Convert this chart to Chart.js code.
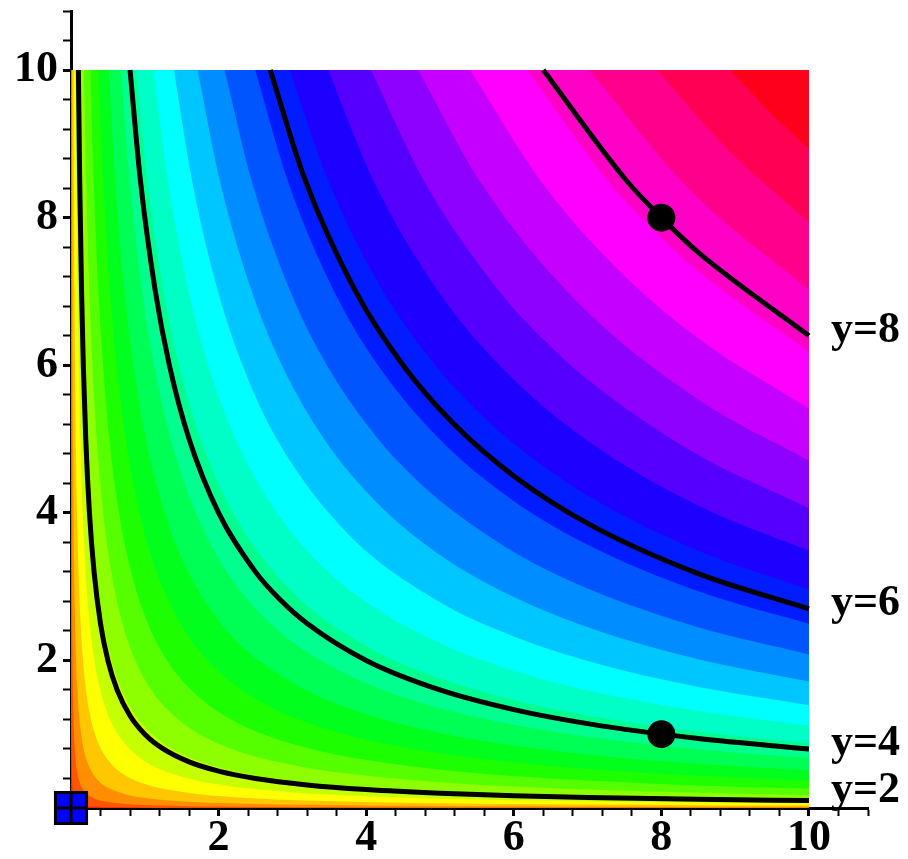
<!DOCTYPE html>
<html>
<head>
<meta charset="utf-8">
<script src="https://cdn.jsdelivr.net/npm/chart.js@4.4.1/dist/chart.umd.min.js"></script>
<style>
  html, body { margin: 0; padding: 0; background: #ffffff; }
  #wrap { position: relative; width: 908px; height: 859px; }
</style>
</head>
<body>
<div id="wrap"><canvas id="chart"></canvas></div>
<script>
// ---------- data ----------
// Sample lines: each edge curve is recorded where it crosses the line y = s (upper branch)
// and, symmetrically, where it crosses x = s (lower branch).
const gridS = [10, 8.5, 7, 6, 5, 4, 3.2, 2.5, 2, 1.6, 1.25, 1, 0.8, 0.6, 0.45, 0.33, 0.24, 0.17, 0.12, 0.085];

// level (height) of each colour-band edge, and value at the top-right corner
const bandLevels = [0.34, 0.69, 1.03, 1.38, 1.72, 2.06, 2.41, 2.75, 3.09, 3.44, 3.78, 4.13, 4.47,
                    4.81, 5.16, 5.50, 5.84, 6.19, 6.53, 6.88, 7.22, 7.56, 7.91, 8.25, 8.60, 8.94];
const cornerLevel = 9.28;

// crossings of each band edge with the sample lines gridS[k]
const bandEdgeCrossings = [
  [0.000508, 0.000598, 0.000726, 0.000847, 0.00102, 0.00127, 0.00159, 0.00203, 0.00254, 0.00318, 0.00406, 0.00508, 0.00635, 0.00847, 0.0113, 0.0154, 0.0212, 0.0299, 0.0423, 0.0598],
  [0.00406, 0.00478, 0.00581, 0.00677, 0.00813, 0.0102, 0.0127, 0.0163, 0.0203, 0.0254, 0.0325, 0.0406, 0.0508, 0.0677, 0.0903, 0.123, 0.169],
  [0.0137, 0.0161, 0.0196, 0.0229, 0.0274, 0.0343, 0.0429, 0.0549, 0.0686, 0.0857, 0.110, 0.137, 0.171, 0.229, 0.305],
  [0.0325, 0.0383, 0.0465, 0.0542, 0.0650, 0.0813, 0.102, 0.130, 0.163, 0.203, 0.260, 0.325, 0.406],
  [0.0635, 0.0747, 0.0907, 0.106, 0.127, 0.159, 0.198, 0.254, 0.318, 0.397, 0.508, 0.635],
  [0.110, 0.129, 0.157, 0.183, 0.219, 0.274, 0.343, 0.439, 0.549, 0.686, 0.878],
  [0.174, 0.205, 0.249, 0.290, 0.349, 0.436, 0.545, 0.697, 0.871, 1.089],
  [0.260, 0.306, 0.372, 0.434, 0.520, 0.650, 0.813, 1.041, 1.301],
  [0.370, 0.436, 0.529, 0.617, 0.741, 0.926, 1.157, 1.482],
  [0.508, 0.598, 0.726, 0.847, 1.016, 1.270, 1.588, 2.032],
  [0.676, 0.796, 0.966, 1.127, 1.352, 1.691, 2.113],
  [0.878, 1.033, 1.254, 1.463, 1.756, 2.195],
  [1.116, 1.313, 1.595, 1.860, 2.232, 2.791],
  [1.394, 1.640, 1.992, 2.324, 2.788],
  [1.715, 2.017, 2.450, 2.858, 3.429],
  [2.081, 2.448, 2.973, 3.468, 4.162],
  [2.496, 2.937, 3.566, 4.160],
  [2.963, 3.486, 4.233, 4.938],
  [3.485, 4.100, 4.978],
  [4.065, 4.782, 5.806],
  [4.705, 5.535],
  [5.410, 6.364],
  [6.182, 7.272],
  [7.023],
  [7.938],
  [8.930]
];
// where each band edge crosses the diagonal x = y
const bandEdgeDiagonal = [0.0713, 0.202, 0.370, 0.570, 0.797, 1.048, 1.320, 1.613, 1.925, 2.254, 2.600, 2.963, 3.341,
                          3.734, 4.141, 4.562, 4.996, 5.443, 5.903, 6.375, 6.859, 7.355, 7.862, 8.381, 8.910, 9.450];

// labelled black level curves
const contourLevels = [2, 4, 6, 8];
const contourCrossings = [
  [0.1, 0.118, 0.143, 0.167, 0.2, 0.25, 0.3125, 0.4, 0.5, 0.625, 0.8],
  [0.8, 0.941, 1.143, 1.333, 1.6, 2.0, 2.5],
  [2.7, 3.176, 3.857, 4.5],
  [6.4, 7.529]
];
const contourDiagonal = [1, 2.828, 5.196, 8];

// marked points and the origin marker
const markedX = [8, 8];
const markedY = [8, 1];
const originX = [0];
const originY = [0];

// axis tick labels
const tickLabels = [2, 4, 6, 8, 10];

// ---------- build the library's datasets ----------
function edgePoints(cross, diag) {
  const upper = cross.map((v, k) => ({ x: v, y: gridS[k] }));
  const lower = cross.map((v, k) => ({ x: gridS[k], y: v })).reverse();
  return upper.concat([{ x: diag, y: diag }], lower);
}
function bandColor(i) {
  const lo = i === 0 ? 0 : bandLevels[i - 1];
  const hi = i < bandLevels.length ? bandLevels[i] : cornerLevel;
  const hue = 360 * ((lo + hi) / 2) / cornerLevel;
  return 'hsl(' + hue.toFixed(2) + ',100%,50%)';
}

const datasets = [];
// lowest band: whole square
datasets.push({
  data: [{ x: 0, y: 0 }, { x: 10, y: 0 }],
  fill: { value: 10 }, backgroundColor: bandColor(0),
  borderColor: 'rgba(0,0,0,0)', borderWidth: 0, pointRadius: 0, order: 300
});
bandEdgeCrossings.forEach((cr, j) => {
  const i = j + 1;
  datasets.push({
    data: edgePoints(cr, bandEdgeDiagonal[j]),
    fill: { value: 10 }, backgroundColor: bandColor(i),
    borderColor: 'rgba(0,0,0,0)', borderWidth: 0, pointRadius: 0,
    cubicInterpolationMode: 'monotone', order: 300 - i
  });
});
contourCrossings.forEach((cr, j) => {
  datasets.push({
    data: edgePoints(cr, contourDiagonal[j]),
    fill: false, borderColor: '#000000', borderWidth: 5, pointRadius: 0,
    cubicInterpolationMode: 'monotone', order: 20
  });
});
datasets.push({
  data: markedX.map((x, i) => ({ x: x, y: markedY[i] })),
  showLine: false, pointRadius: 14, pointBackgroundColor: '#000000',
  pointBorderWidth: 0, order: 10, clip: false
});
datasets.push({
  data: originX.map((x, i) => ({ x: x, y: originY[i] })),
  showLine: false, pointStyle: 'rect', pointRadius: 22, pointBackgroundColor: '#0000ff',
  pointBorderColor: '#000000', pointBorderWidth: 3, order: 5, clip: false
});
datasets.push({
  data: originX.map((x, i) => ({ x: x, y: originY[i] })),
  showLine: false, pointStyle: 'cross', pointRadius: 15.5,
  pointBorderColor: '#000000', pointBorderWidth: 3, order: 4, clip: false
});

const FONT = "'Liberation Serif', 'Times New Roman', serif";
function isLabelled(v) {
  return tickLabels.some(t => Math.abs(t - v) < 1e-6);
}
function axis(isX) {
  return {
    type: 'linear', min: 0, max: 10.8,
    ticks: {
      stepSize: 0.4, autoSkip: false, maxRotation: 0, minRotation: 0,
      padding: isX ? 14 : 5, color: '#000000',
      font: { family: FONT, size: 44, weight: 'bold', lineHeight: 0.4 },
      callback: v => isLabelled(v) ? String(Math.round(v)) : ''
    },
    grid: {
      drawOnChartArea: false, drawTicks: true, tickLength: 8,
      tickColor: '#000000',
      tickWidth: ctx => (ctx.tick && isLabelled(ctx.tick.value)) ? 3 : 2
    },
    border: { display: true, color: '#000000', width: 3 },
    afterFit: s => {
      if (isX) { s.height = 51; s.paddingLeft = 0; s.paddingRight = 0; }
      else { s.width = 71; s.paddingTop = 0; s.paddingBottom = 0; }
    }
  };
}

const contourLabelPlugin = {
  id: 'contourLabels',
  afterDatasetsDraw(chart) {
    const { ctx } = chart;
    const xs = chart.scales.x, ys = chart.scales.y;
    ctx.save();
    ctx.font = 'bold 44px ' + FONT;
    ctx.fillStyle = '#000000';
    ctx.textAlign = 'left';
    ctx.textBaseline = 'alphabetic';
    contourLevels.forEach((lvl, j) => {
      const pts = edgePoints(contourCrossings[j], contourDiagonal[j]);
      const end = pts[pts.length - 1];
      const px = xs.getPixelForValue(end.x) + 22;
      const py = Math.min(ys.getPixelForValue(end.y) + 6, ys.getPixelForValue(0) - 6);
      ctx.fillText('y=' + lvl, px, py);
    });
    ctx.restore();
  }
};

new Chart(document.getElementById('chart'), {
  type: 'line',
  data: { datasets: datasets },
  options: {
    responsive: true, maintainAspectRatio: false, animation: false,
    layout: { autoPadding: false, padding: { top: 11, right: 40, bottom: 0, left: 0 } },
    plugins: { legend: { display: false }, tooltip: { enabled: false } },
    scales: { x: axis(true), y: axis(false) }
  },
  plugins: [contourLabelPlugin]
});
</script>
</body>
</html>
